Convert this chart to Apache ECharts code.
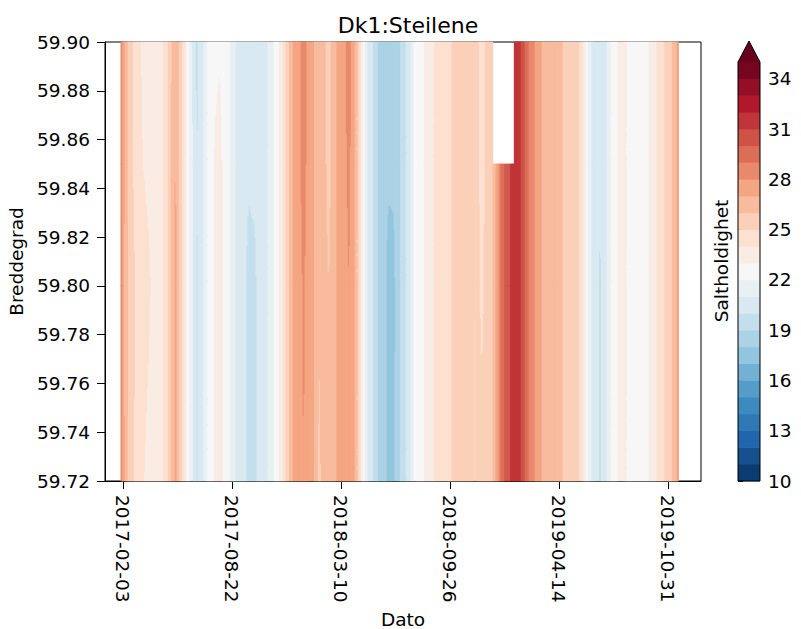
<!DOCTYPE html>
<html><head><meta charset="utf-8">
<script src="https://cdn.jsdelivr.net/npm/echarts@6/dist/echarts.min.js"></script>
<style>html,body{margin:0;padding:0;background:#fff}#c{width:801px;height:629px}</style>
</head><body><div id="c"></div>
<script>
const chartTitle = 'Dk1:Steilene';
const xAxisName = 'Dato';
const yAxisName = 'Breddegrad';
const colorbarName = 'Saltholdighet';

const dates = [
'2017-01-30','2017-02-09','2017-02-18','2017-03-01','2017-03-12','2017-03-23','2017-04-03','2017-04-14','2017-04-25','2017-05-04',
'2017-05-11','2017-05-19','2017-05-28','2017-06-04','2017-06-12','2017-06-19','2017-06-26','2017-07-04','2017-07-13','2017-07-22',
'2017-07-31','2017-08-11','2017-08-22','2017-08-31','2017-09-11','2017-09-22','2017-10-03','2017-10-14','2017-10-25','2017-11-04',
'2017-11-13','2017-11-22','2017-11-29','2017-12-07','2017-12-14','2017-12-23','2018-01-01','2018-01-10','2018-01-20','2018-01-29',
'2018-02-07','2018-02-16','2018-02-25','2018-03-07','2018-03-16','2018-03-25','2018-04-03','2018-04-10','2018-04-18','2018-04-25',
'2018-05-02','2018-05-10','2018-05-19','2018-05-28','2018-06-06','2018-06-15','2018-06-25','2018-07-04','2018-07-13','2018-07-20',
'2018-07-28','2018-08-06','2018-08-15','2018-08-24','2018-09-02','2018-09-13','2018-09-24','2018-10-05','2018-10-16','2018-10-27',
'2018-11-07','2018-11-17','2018-11-24','2018-12-03','2018-12-14','2019-01-01','2019-01-22','2019-02-02','2019-02-11','2019-02-20',
'2019-03-03','2019-03-14','2019-03-25','2019-04-05','2019-04-16','2019-04-25','2019-05-06','2019-05-17','2019-05-27','2019-06-03',
'2019-06-10','2019-06-19','2019-06-29','2019-07-08','2019-07-15','2019-07-24','2019-08-02','2019-08-12','2019-08-21','2019-09-01',
'2019-09-12','2019-09-23','2019-10-02','2019-10-11','2019-10-20','2019-10-30','2019-11-08','2019-11-15','2019-11-20'
];

const latitudes = [59.72, 59.80, 59.85, 59.90];

const sal_5972 = [
28.6,26.5,25.3,24.7,24.1,23.6,23.5,23.6,24.8,26.2,
27.2,25.8,23.8,22.3,20.9,19.9,20.4,21.5,22.5,23.2,
23.4,22.6,21.6,20.8,20.3,19.8,19.7,20.5,20.8,21.6,
22.6,23.6,24.9,26.3,27.4,27.7,28.0,27.6,27.0,25.8,
26.4,26.3,26.6,27.3,27.7,27.9,27.4,25.8,23.5,21.6,
20.6,19.8,18.8,18.4,17.7,17.8,18.8,19.6,20.4,21.8,
22.6,22.8,23.4,23.8,24.2,24.6,24.8,25.2,25.4,25.6,
25.4,25.2,25.3,25.3,26.0,29.6,31.8,31.3,30.0,28.8,
27.8,27.0,26.8,27.0,26.8,25.6,25.4,25.3,24.6,22.8,
21.3,20.5,19.9,20.5,21.5,22.5,23.2,23.3,22.7,22.5,
22.6,22.8,23.4,24.0,24.6,25.3,26.0,26.8,27.6
];
const sal_5980 = [
28.6,26.4,25.3,24.9,24.6,24.2,23.5,23.6,24.8,26.2,
27.2,25.8,23.8,22.2,20.9,19.9,20.4,21.5,22.5,23.2,
23.4,22.6,21.6,20.8,20.3,19.8,19.8,20.5,20.8,21.6,
22.6,23.6,24.9,26.3,27.4,27.7,28.1,27.6,27.0,26.1,
26.4,26.0,26.6,27.3,27.7,28.0,27.4,25.8,23.5,21.6,
20.6,19.8,18.8,18.4,17.6,17.7,18.8,19.6,20.4,21.8,
22.6,22.8,23.4,23.8,24.2,24.6,24.8,25.2,25.4,25.6,
25.4,25.2,24.8,25.3,26.0,29.6,31.8,31.3,30.0,28.8,
27.8,27.0,26.8,27.0,26.8,25.6,25.4,25.3,24.6,22.8,
21.3,20.5,19.9,20.5,21.5,22.5,23.2,23.3,22.7,22.5,
22.6,22.8,23.4,24.0,24.6,25.3,26.0,26.8,27.6
];
const sal_5985 = [
28.7,26.5,25.3,24.5,24.0,23.7,23.5,23.6,24.8,26.2,
27.1,25.8,23.8,22.2,20.9,20.0,20.4,21.5,22.5,23.1,
23.3,22.6,21.6,20.8,20.3,20.1,20.2,20.5,20.8,21.6,
22.6,23.6,24.9,26.3,27.4,27.7,28.4,27.6,27.0,26.5,
26.4,25.6,26.6,27.3,27.7,28.2,27.4,25.8,23.5,21.6,
20.6,19.8,18.8,18.4,18.2,18.2,18.8,19.6,20.4,21.8,
22.6,22.8,23.4,23.8,24.2,24.6,24.8,25.2,25.4,25.6,
25.4,25.2,24.6,25.3,26.0,29.6,31.8,31.3,30.0,28.8,
27.8,27.0,26.8,27.0,26.8,25.6,25.4,25.3,24.6,22.8,
21.3,20.5,20.1,20.5,21.5,22.5,23.2,23.3,22.7,22.5,
22.6,22.8,23.4,24.0,24.6,25.3,26.0,26.8,27.6
];
const sal_5990 = [
28.8,26.6,25.4,24.4,23.8,23.6,23.5,23.6,24.8,26.1,
27.0,25.8,23.8,22.2,20.8,19.8,20.4,21.5,22.5,22.8,
22.9,22.6,21.6,20.8,20.3,20.3,20.3,20.5,20.8,21.6,
22.6,23.6,24.9,26.3,27.4,27.7,28.7,27.6,27.0,26.6,
26.4,25.5,26.6,27.3,27.7,28.6,27.4,25.8,23.5,21.6,
20.6,19.8,18.8,18.4,18.3,18.4,18.8,19.6,20.4,21.8,
22.6,22.8,23.4,23.8,24.2,24.6,24.8,25.2,25.4,25.6,
25.4,25.2,24.6,25.3,26.0,null,31.8,31.3,30.0,28.8,
27.8,27.0,26.8,27.0,26.8,25.6,25.4,25.3,24.6,22.8,
21.3,20.5,20.1,20.5,21.5,22.5,23.2,23.3,22.7,22.5,
22.6,22.8,23.4,24.0,24.6,25.3,26.0,26.8,27.6
];

const xRange = ['2017-01-01', '2019-12-31'];
const xTickDates = ['2017-02-03','2017-08-22','2018-03-10','2018-09-26','2019-04-14','2019-10-31'];
const yTicks = [59.72, 59.74, 59.76, 59.78, 59.80, 59.82, 59.84, 59.86, 59.88, 59.90];
const levels = [10,11,12,13,14,15,16,17,18,19,20,21,22,23,24,25,26,27,28,29,30,31,32,33,34,35];
const colorbarTicks = [10, 13, 16, 19, 22, 25, 28, 31, 34];

// ---------- styling / colormap ----------
const FONT = 'DejaVu Sans';
const FS = 18.5;
const rdbuR = ['#053061','#2166ac','#4393c3','#92c5de','#d1e5f0','#f7f7f7','#fddbc7','#f4a582','#d6604d','#b2182b','#67001f'];
function hex2rgb(h){return [parseInt(h.slice(1,3),16),parseInt(h.slice(3,5),16),parseInt(h.slice(5,7),16)];}
const cps = rdbuR.map(hex2rgb);
function cmap(t){
  t = Math.max(0, Math.min(1, t));
  const s = t * (cps.length - 1);
  const k = Math.min(cps.length - 2, Math.floor(s));
  const f = s - k;
  const c = [0,1,2].map(q => Math.round(cps[k][q] + (cps[k+1][q] - cps[k][q]) * f));
  return 'rgb(' + c.join(',') + ')';
}
const nBands = levels.length - 1;
const bandColors = [];
for (let k = 0; k < nBands; k++) bandColors.push(cmap((k + 0.5) / nBands));
const overColor = '#67001f';
const underColor = '#053061';
function bandIndex(v){
  if (v >= levels[levels.length - 1]) return nBands;
  if (v < levels[0]) return -1;
  for (let k = 0; k < nBands; k++) if (v >= levels[k] && v < levels[k+1]) return k;
  return nBands;
}
function bandColor(b){ return b >= nBands ? overColor : (b < 0 ? underColor : bandColors[b]); }

const ts = dates.map(d => Date.parse(d));
const rows = [sal_5972, sal_5980, sal_5985, sal_5990];

const cellData = [];
for (let j = 0; j < latitudes.length - 1; j++)
  for (let i = 0; i < ts.length - 1; i++)
    cellData.push([ts[i], latitudes[j], i, j]);

function renderCell(params, api){
  const i = api.value(2), j = api.value(3);
  const v00 = rows[j][i], v10 = rows[j][i+1], v01 = rows[j+1][i], v11 = rows[j+1][i+1];
  if ([v00, v10, v01, v11].some(v => v == null || isNaN(v))) return null;
  const pA = api.coord([ts[i], latitudes[j]]);
  const pB = api.coord([ts[i+1], latitudes[j+1]]);
  const x0 = pA[0], x1 = pB[0], yb = pA[1], yt = pB[1];
  const nx = Math.max(1, Math.ceil(x1 - x0));
  const ny = Math.max(1, Math.ceil((yb - yt) / 2));
  const dx = (x1 - x0) / nx, dy = (yb - yt) / ny;
  const children = [];
  for (let a = 0; a < nx; a++){
    const u = (a + 0.5) / nx;
    let segStart = 0, segBand = null;
    for (let b = 0; b <= ny; b++){
      let band = null;
      if (b < ny){
        const w = (b + 0.5) / ny;
        const v = (1-u)*(1-w)*v00 + u*(1-w)*v10 + (1-u)*w*v01 + u*w*v11;
        band = bandIndex(v);
      }
      if (b === ny || band !== segBand){
        if (segBand !== null && b > segStart){
          children.push({
            type: 'rect',
            shape: { x: x0 + a*dx - 0.3, y: yb - b*dy - 0.3, width: dx + 0.6, height: (b - segStart)*dy + 0.6 },
            style: { fill: bandColor(segBand) },
            silent: true
          });
        }
        segStart = b; segBand = band;
      }
    }
  }
  return { type: 'group', children };
}

const cbData = [];
for (let k = 0; k < nBands; k++) cbData.push([0.5, levels[k] + 0.5, k]);
function renderBand(params, api){
  const k = api.value(2);
  const p0 = api.coord([0, levels[k]]), p1 = api.coord([1, levels[k+1]]);
  return { type: 'rect', shape: { x: p0[0], y: p1[1] - 0.3, width: p1[0] - p0[0], height: p0[1] - p1[1] + 0.6 }, style: { fill: bandColors[k] } };
}
function renderOutline(params, api){
  const lo = levels[0], hi = levels[levels.length - 1];
  const bl = api.coord([0, lo]), br = api.coord([1, lo]);
  const tl = api.coord([0, hi]), tr = api.coord([1, hi]);
  const tip = [(tl[0] + tr[0]) / 2, tl[1] - 0.05 * (bl[1] - tl[1])];
  return { type: 'group', children: [
    { type: 'polygon', shape: { points: [tl, tip, tr] }, style: { fill: overColor } },
    { type: 'polygon', shape: { points: [bl, tl, tip, tr, br] }, style: { fill: 'none', stroke: '#000', lineWidth: 1 } }
  ]};
}

const chart = echarts.init(document.getElementById('c'), null, { renderer: 'svg' });
chart.setOption({
  animation: false,
  backgroundColor: '#fff',
  textStyle: { fontFamily: FONT },
  title: { text: chartTitle, left: 403, top: 9, textAlign: 'center',
    textStyle: { fontFamily: FONT, fontSize: 22, fontWeight: 'normal', color: '#000' } },
  graphic: [{ type: 'text', x: 721, y: 261, rotation: Math.PI / 2,
    style: { text: colorbarName, fontFamily: FONT, fontSize: FS, fill: '#000', textAlign: 'center', textVerticalAlign: 'middle' } }],
  grid: [
    { left: 105, right: 100, top: 42, bottom: 148, show: true, borderColor: '#000', borderWidth: 1, backgroundColor: 'transparent', containLabel: false, outerBoundsMode: 'none' },
    { left: 738, width: 22, top: 62, bottom: 148, show: false, containLabel: false, outerBoundsMode: 'none' }
  ],
  xAxis: [
    { type: 'value', gridIndex: 0, min: Date.parse(xRange[0]), max: Date.parse(xRange[1]),
      name: xAxisName, nameLocation: 'middle', nameGap: 124,
      nameTextStyle: { fontFamily: FONT, fontSize: FS, color: '#000' },
      axisLine: { show: true, lineStyle: { color: '#000', width: 1 } },
      axisTick: { show: true, length: 8, lineStyle: { color: '#000', width: 1 }, customValues: xTickDates.map(d => Date.parse(d)) },
      axisLabel: { rotate: -90, margin: 14, fontFamily: FONT, fontSize: FS, color: '#000',
        customValues: xTickDates.map(d => Date.parse(d)),
        formatter: v => new Date(v).toISOString().slice(0, 10) },
      splitLine: { show: false } },
    { type: 'value', gridIndex: 1, min: 0, max: 1, show: false }
  ],
  yAxis: [
    { type: 'value', gridIndex: 0, min: yTicks[0], max: yTicks[yTicks.length - 1], interval: 0.02,
      name: yAxisName, nameLocation: 'middle', nameGap: 76,
      nameTextStyle: { fontFamily: FONT, fontSize: FS, color: '#000' },
      axisLine: { show: true, lineStyle: { color: '#000', width: 1 } },
      axisTick: { show: true, length: 8, lineStyle: { color: '#000', width: 1 } },
      axisLabel: { margin: 15, fontFamily: FONT, fontSize: FS, color: '#000', formatter: v => v.toFixed(2) },
      splitLine: { show: false } },
    { type: 'value', gridIndex: 1, min: levels[0], max: levels[levels.length - 1], position: 'right',
      axisLine: { show: false },
      axisTick: { show: true, length: 5, lineStyle: { color: '#000', width: 1 }, customValues: colorbarTicks },
      axisLabel: { margin: 8, fontFamily: FONT, fontSize: FS, color: '#000', customValues: colorbarTicks },
      splitLine: { show: false } }
  ],
  series: [
    { type: 'custom', xAxisIndex: 0, yAxisIndex: 0, data: cellData, renderItem: renderCell, clip: false, silent: true },
    { type: 'custom', xAxisIndex: 1, yAxisIndex: 1, data: cbData, renderItem: renderBand, clip: false, silent: true },
    { type: 'custom', xAxisIndex: 1, yAxisIndex: 1, data: [[0.5, 22]], renderItem: renderOutline, clip: false, silent: true, z: 5 }
  ]
});
</script>
</body></html>
